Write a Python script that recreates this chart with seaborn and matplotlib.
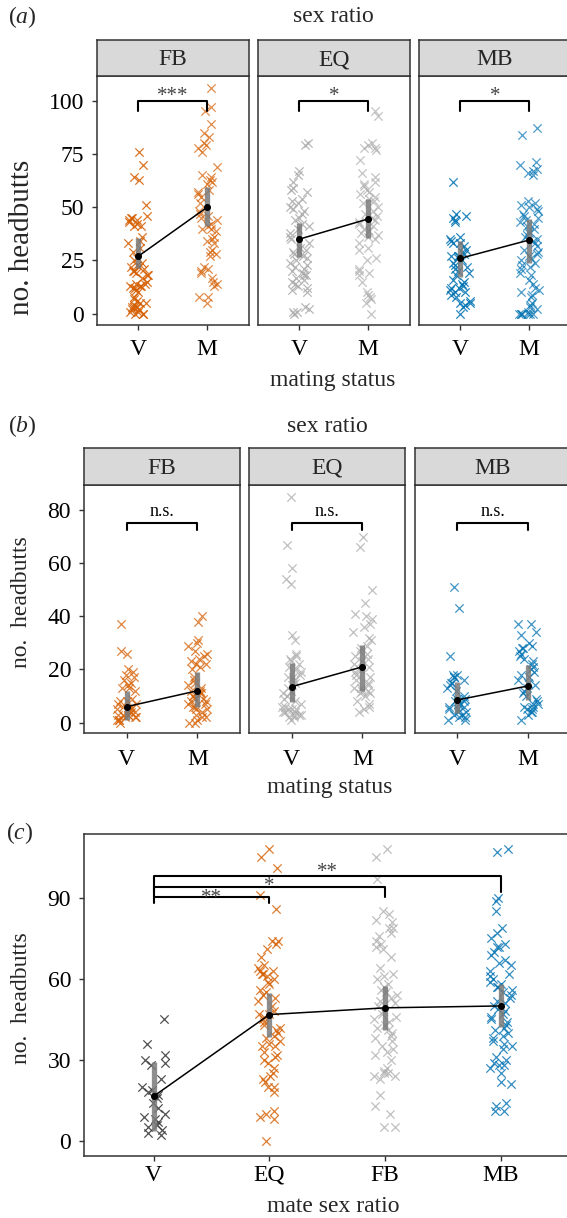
import numpy as np
import pandas as pd
import matplotlib
matplotlib.use("Agg")
import matplotlib.pyplot as plt
import seaborn as sns

sns.set_theme(style="white")
plt.rcParams['font.family'] = ['Liberation Serif', 'DejaVu Serif']
plt.rcParams['mathtext.fontset'] = 'custom'
plt.rcParams['mathtext.rm'] = 'Liberation Serif'
plt.rcParams['mathtext.it'] = 'Liberation Serif:italic'

# ---------------- data ----------------
status = ["V", "M"]
ratios = ["FB", "EQ", "MB"]
cats_c = ["V", "EQ", "FB", "MB"]

# panel (a) raw counts
a_FB_V = [76, 70, 64, 63, 51, 46, 45, 45, 44, 44, 43, 42, 41, 41, 36, 34, 33, 31, 29, 26, 25, 24, 23, 22, 22, 21, 20, 20, 19, 18, 18, 17, 15, 14, 14, 13, 13, 13, 12, 12, 11, 10, 8, 7, 6, 5, 5, 4, 3, 3, 3, 2, 2, 1, 1, 0, 0, 0]
a_FB_M = [106, 97, 95, 89, 85, 83, 80, 79, 78, 76, 69, 65, 64, 63, 62, 61, 58, 57, 56, 55, 52, 48, 47, 46, 45, 44, 42, 41, 40, 40, 39, 36, 35, 34, 33, 30, 29, 28, 27, 22, 21, 20, 19, 17, 15, 14, 13, 8, 8, 5]
a_EQ_V = [80, 79, 67, 65, 62, 59, 58, 57, 54, 53, 52, 50, 49, 48, 47, 45, 44, 42, 41, 40, 38, 36, 35, 33, 31, 30, 29, 28, 27, 26, 25, 24, 23, 22, 21, 20, 19, 18, 18, 17, 16, 15, 14, 13, 12, 11, 10, 3, 2, 1, 1, 0]
a_EQ_M = [95, 93, 80, 79, 78, 78, 77, 72, 66, 64, 62, 61, 60, 58, 57, 56, 55, 54, 53, 52, 50, 48, 47, 46, 45, 44, 43, 42, 41, 40, 39, 38, 37, 36, 35, 33, 31, 30, 26, 25, 21, 20, 19, 18, 15, 10, 9, 8, 7, 5, 0]
a_MB_V = [62, 47, 46, 45, 44, 43, 36, 35, 34, 33, 33, 32, 30, 29, 28, 27, 27, 27, 26, 25, 24, 23, 22, 21, 20, 19, 18, 16, 15, 14, 13, 12, 12, 11, 10, 10, 9, 8, 6, 5, 5, 4, 3, 0]
a_MB_M = [87, 84, 71, 70, 68, 67, 66, 65, 53, 52, 51, 50, 49, 48, 47, 46, 45, 44, 43, 42, 41, 40, 39, 38, 37, 36, 35, 34, 33, 32, 30, 29, 28, 27, 26, 25, 24, 23, 22, 21, 19, 18, 16, 14, 12, 11, 10, 9, 8, 5, 4, 3, 2, 1, 0, 0, 0, 0, 0, 0, 0]

# panel (a) summaries (mean, lower, upper) for V and M
a_mean = {"FB": [27, 50], "EQ": [35, 44.5], "MB": [26, 34.6]}
a_lo = {"FB": [21.4, 41.3], "EQ": [26.8, 35.4], "MB": [17.4, 23.7]}
a_hi = {"FB": [35.5, 59.6], "EQ": [42.7, 53.7], "MB": [34.0, 44.3]}
a_sig = ["***", "*", "*"]

# panel (b) raw counts
b_FB_V = [37, 27, 26, 20, 19, 18, 17, 16, 15, 14, 13, 13, 12, 9, 8, 8, 7, 7, 6, 6, 5, 5, 5, 4, 4, 4, 3, 3, 3, 3, 2, 2, 2, 1, 1, 1, 0]
b_FB_M = [40, 38, 31, 30, 29, 27, 26, 25, 24, 23, 22, 22, 21, 20, 17, 16, 15, 14, 13, 12, 12, 11, 11, 10, 10, 9, 9, 8, 8, 7, 7, 6, 6, 5, 5, 4, 3, 2, 2, 1, 0, 0]
b_EQ_V = [85, 67, 58, 54, 52, 33, 31, 26, 25, 24, 23, 22, 21, 20, 19, 18, 17, 17, 16, 15, 14, 13, 12, 11, 10, 9, 8, 7, 6, 6, 5, 5, 5, 4, 4, 4, 3, 3, 3, 2, 2, 1]
b_EQ_M = [70, 66, 50, 45, 41, 40, 39, 37, 36, 34, 32, 31, 29, 28, 27, 26, 25, 24, 23, 22, 21, 20, 19, 18, 17, 16, 15, 14, 13, 13, 12, 12, 11, 11, 10, 8, 7, 6, 5, 4]
b_MB_V = [51, 43, 25, 18, 18, 17, 17, 16, 15, 15, 14, 13, 12, 10, 9, 9, 8, 8, 8, 7, 7, 6, 6, 5, 5, 4, 4, 3, 3, 2, 2, 1, 1]
b_MB_M = [37, 37, 34, 33, 30, 29, 28, 28, 27, 26, 25, 24, 23, 22, 21, 20, 19, 18, 17, 16, 15, 14, 13, 12, 11, 10, 9, 8, 7, 7, 6, 6, 5, 5, 4, 4, 3, 1]

b_mean = {"FB": [6, 12], "EQ": [13.5, 21], "MB": [8.5, 13.8]}
b_lo = {"FB": [1, 6], "EQ": [7.9, 12], "MB": [3.6, 8.5]}
b_hi = {"FB": [12, 19.2], "EQ": [22.3, 29.2], "MB": [15.4, 21.7]}
b_sig = ["n.s.", "n.s.", "n.s."]

# panel (c) raw counts
c_V = [45, 36, 32, 30, 29, 28, 23, 20, 19, 18, 17, 16, 14, 12, 10, 9, 8, 7, 6, 5, 4, 3, 2]
c_EQ = [108, 105, 101, 91, 86, 74, 74, 73, 71, 68, 65, 64, 63, 63, 62, 62, 61, 60, 59, 58, 56, 55, 54, 53, 52, 50, 48, 47, 47, 46, 45, 44, 43, 42, 41, 40, 39, 38, 37, 36, 35, 35, 33, 32, 31, 30, 29, 27, 25, 24, 23, 22, 20, 20, 18, 11, 10, 9, 8, 0]
c_FB = [108, 105, 97, 85, 84, 82, 81, 79, 79, 77, 76, 74, 73, 72, 71, 68, 64, 62, 61, 60, 58, 57, 56, 55, 54, 53, 52, 51, 50, 48, 47, 46, 45, 44, 43, 42, 41, 40, 39, 38, 37, 35, 34, 33, 32, 30, 27, 26, 25, 25, 24, 24, 23, 17, 13, 10, 5, 5]
c_MB = [108, 107, 90, 89, 85, 79, 77, 75, 73, 72, 72, 70, 69, 67, 66, 65, 63, 62, 61, 60, 59, 58, 57, 57, 56, 55, 54, 53, 52, 51, 50, 49, 48, 47, 46, 45, 44, 43, 42, 41, 40, 39, 38, 37, 36, 35, 34, 31, 30, 29, 28, 28, 27, 25, 22, 21, 14, 13, 11, 11]
c_mean = [16.5, 46.8, 49.3, 50.0]
c_lo = [3.5, 38.4, 40.9, 42.1]
c_hi = [29.4, 54.8, 57.2, 58.1]
c_pairs = [("V", "EQ"), ("V", "FB"), ("V", "MB")]
c_sig = ["**", "*", "**"]
c_bracket_y = [90.3, 94.2, 98.1]
c_bracket_tip = [88.2, 90.3, 92.1]
c_sig_y = [91.5, 95.8, 101.0]

# ---------------- style ----------------
ORANGE, GREY, BLUE, DARK = "#D55E00", "#ABABAB", "#0072B2", "#333333"
colors_ab = {"FB": ORANGE, "EQ": GREY, "MB": BLUE}
colors_c = {"V": DARK, "EQ": ORANGE, "FB": GREY, "MB": BLUE}
W, H = 567, 1218
fig = plt.figure(figsize=(W / 100, H / 100), dpi=100)
FS = 17
EDGE = "#333333"


def rect(x0, y0, x1, y1):
    return [x0 / W, 1 - y1 / H, (x1 - x0) / W, (y1 - y0) / H]


def style_axes(ax, show_y, xpad):
    for s in ax.spines.values():
        s.set_visible(True)
        s.set_color(EDGE)
        s.set_linewidth(1.1)
    ax.tick_params(axis="both", direction="out", length=3.8, width=1.0, color=EDGE,
                   labelsize=FS, labelcolor="black", bottom=True, left=show_y,
                   labelleft=show_y)
    ax.tick_params(axis="x", pad=xpad)
    ax.tick_params(axis="y", pad=5.5)
    ax.set_xlabel("")
    ax.set_ylabel("")
    ax.grid(False)


def strip(x0, y0, x1, y1, label):
    s = fig.add_axes(rect(x0, y0, x1, y1))
    s.set_facecolor("#D9D9D9")
    s.set_xticks([])
    s.set_yticks([])
    for sp in s.spines.values():
        sp.set_color(EDGE)
        sp.set_linewidth(1.1)
    s.text(0.5, 0.45, label, ha="center", va="center", fontsize=FS, transform=s.transAxes)


def draw_group(ax, order, groups, cols, alphas, means, lo, hi, jitter, msize):
    for cat, vals in groups.items():
        sns.stripplot(x=[cat] * len(vals), y=vals, order=order, color=cols[cat],
                      marker="x", size=msize, linewidth=0.9, alpha=alphas[cat],
                      jitter=jitter, ax=ax, zorder=1)
    pos = np.arange(len(order))
    ax.vlines(pos, lo, hi, color="#7A7A7A", lw=3.8, alpha=0.85, zorder=2)
    n0 = len(ax.lines)
    sns.pointplot(x=order, y=means, order=order, color="black", markersize=4.2,
                  linewidth=1.1, errorbar=None, ax=ax)
    for ln in ax.lines[n0:]:
        ln.set_zorder(4)


def sig_text(ax, x, yc, lab, size, color, drop):
    ax.annotate(lab, (x, yc), xytext=(0, -drop), textcoords="offset points",
                ha="center", va="baseline", fontsize=size, color=color, zorder=6)


np.random.seed(3)

# ---------------- panel (a) ----------------
a_data = {"FB": {"V": a_FB_V, "M": a_FB_M}, "EQ": {"V": a_EQ_V, "M": a_EQ_M},
          "MB": {"V": a_MB_V, "M": a_MB_M}}
a_x = [(97, 248.5), (258, 409.5), (419, 570.5)]
for i, r in enumerate(ratios):
    x0, x1 = a_x[i]
    ax = fig.add_axes(rect(x0, 76, x1, 325))
    c = colors_ab[r]
    draw_group(ax, status, a_data[r], {"V": c, "M": c}, {"V": 0.85, "M": 0.7},
               a_mean[r], a_lo[r], a_hi[r], 0.15, 6)
    ax.set_xlim(-0.6, 1.6)
    ax.set_ylim(-5.3, 111.6)
    ax.set_yticks([0, 25, 50, 75, 100])
    style_axes(ax, i == 0, 6.5)
    ax.plot([0, 0, 1, 1], [95, 100, 100, 95], color="black", lw=1.5, zorder=5)
    sig_text(ax, 0.5, 104, a_sig[i], 15, "#444444", 6.5)
    strip(x0, 40, x1, 76, r)

fig.text(333 / W, 1 - 17 / H, "sex ratio", ha="center", va="center", fontsize=FS)
fig.text(22 / W, 1 - 17 / H, r"$\mathrm{(}a\mathrm{)}$", ha="center", va="center", fontsize=FS)
fig.text(333 / W, 1 - 380 / H, "mating status", ha="center", va="center", fontsize=FS)
fig.text(22 / W, 1 - 237 / H, "no. headbutts", ha="center", va="center", rotation=90,
         fontsize=21)

# ---------------- panel (b) ----------------
b_data = {"FB": {"V": b_FB_V, "M": b_FB_M}, "EQ": {"V": b_EQ_V, "M": b_EQ_M},
          "MB": {"V": b_MB_V, "M": b_MB_M}}
b_x = [(84, 240), (249, 405), (414.5, 570.5)]
for i, r in enumerate(ratios):
    x0, x1 = b_x[i]
    ax = fig.add_axes(rect(x0, 485, x1, 733))
    c = colors_ab[r]
    draw_group(ax, status, b_data[r], {"V": c, "M": c}, {"V": 0.75, "M": 0.75},
               b_mean[r], b_lo[r], b_hi[r], 0.14, 6)
    ax.set_xlim(-0.6, 1.6)
    ax.set_ylim(-3.9, 89.4)
    ax.set_yticks([0, 20, 40, 60, 80])
    style_axes(ax, i == 0, 7.5)
    ax.plot([0, 0, 1, 1], [72.4, 75.2, 75.2, 72.4], color="black", lw=1.5, zorder=5)
    sig_text(ax, 0.5, 79.3, b_sig[i], 13, "black", 3)
    strip(x0, 448, x1, 485, r)

fig.text(327 / W, 1 - 426 / H, "sex ratio", ha="center", va="center", fontsize=FS)
fig.text(22 / W, 1 - 426 / H, r"$\mathrm{(}b\mathrm{)}$", ha="center", va="center", fontsize=FS)
fig.text(330 / W, 1 - 788 / H, "mating status", ha="center", va="center", fontsize=FS)
fig.text(22 / W, 1 - 602 / H, "no.  headbutts", ha="center", va="center", rotation=90,
         fontsize=FS)

# ---------------- panel (c) ----------------
ax = fig.add_axes(rect(84, 834, 570.5, 1156))
c_data = {"V": c_V, "EQ": c_EQ, "FB": c_FB, "MB": c_MB}
draw_group(ax, cats_c, c_data, colors_c, {"V": 0.85, "EQ": 0.8, "FB": 0.75, "MB": 0.8},
           c_mean, c_lo, c_hi, 0.1, 6)
ax.set_xlim(-0.6, 3.6)
ax.set_ylim(-5.6, 113.7)
ax.set_yticks([0, 30, 60, 90])
style_axes(ax, True, 2.5)
for (p, q), yb, yt, ys, lab in zip(c_pairs, c_bracket_y, c_bracket_tip, c_sig_y, c_sig):
    i0, i1 = cats_c.index(p), cats_c.index(q)
    ax.plot([i0, i0, i1, i1], [yt, yb, yb, yt], color="black", lw=1.5, zorder=5)
    sig_text(ax, (i0 + i1) / 2, ys, lab, 15, "#444444", 6.5)

fig.text(20 / W, 1 - 833 / H, r"$\mathrm{(}c\mathrm{)}$", ha="center", va="center", fontsize=FS)
fig.text(333 / W, 1 - 1207 / H, "mate sex ratio", ha="center", va="center", fontsize=FS)
fig.text(22 / W, 1 - 998 / H, "no.  headbutts", ha="center", va="center", rotation=90,
         fontsize=FS)

fig.savefig("out.png", dpi=100)
